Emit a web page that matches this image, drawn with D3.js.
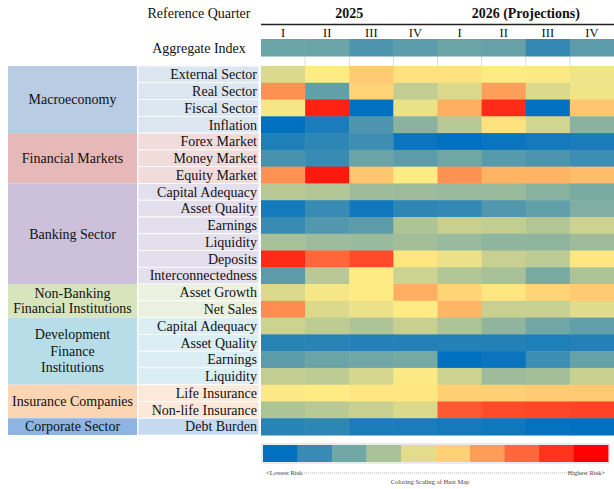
<!DOCTYPE html>
<html><head><meta charset="utf-8">
<script src="https://cdn.jsdelivr.net/npm/d3@7"></script>
<style>
html,body{margin:0;padding:0;background:#fff;}
text{font-family:"Liberation Serif","Times New Roman",serif;fill:#111;}
</style></head>
<body><svg id="chart" width="614" height="489"></svg>
<script>
// ---------------- DATA ----------------
const quarters = ["I","II","III","IV","I","II","III","IV"];
const yearLabels = ["2025","2026 (Projections)"];
const groupNames = [
  ["Macroeconomy"],
  ["Financial Markets"],
  ["Banking Sector"],
  ["Non-Banking","Financial Institutions"],
  ["Development","Finance","Institutions"],
  ["Insurance Companies"],
  ["Corporate Sector"]
];
const groupSizes = [4,3,6,2,4,2,1];
const groupColors = ["#b8cce4","#e6b8b7","#ccc0da","#d8e4bc","#b7dee8","#fcd5b4","#8db4e2"];
const subColors   = ["#dce6f1","#f2dcdb","#e4dfec","#ebf1de","#daeef3","#fde9d9","#c5d9f1"];
const indicators = [
  "External Sector","Real Sector","Fiscal Sector","Inflation",
  "Forex Market","Money Market","Equity Market",
  "Capital Adequacy","Asset Quality","Earnings","Liquidity","Deposits","Interconnectedness",
  "Asset Growth","Net Sales",
  "Capital Adequacy","Asset Quality","Earnings","Liquidity",
  "Life Insurance","Non-life Insurance",
  "Debt Burden"
];
// risk score 0 (lowest) .. 100 (highest), estimated from colours
const aggregateIndex = [21,21,15,18,21,20,10,18];
const riskScores = [
  [43,50,57,52,52,50,49,47],
  [69,19,55,38,43,66,43,47],
  [48,93,0,46,63,91,0,58],
  [0,5,15,27,36,52,41,27],
  [6,9,12,2,0,2,4,5],
  [14,11,21,18,22,17,15,12],
  [69,95,58,50,69,62,62,60],
  [36,35,31,31,30,30,27,24],
  [4,11,3,9,10,16,19,25],
  [11,16,18,34,39,38,35,40],
  [33,31,30,32,30,28,28,31],
  [91,78,84,51,46,39,37,51],
  [18,36,50,40,35,33,24,34],
  [43,48,50,63,55,51,55,57],
  [70,43,46,50,61,39,39,44],
  [40,37,34,39,34,28,22,19],
  [8,8,7,7,7,7,6,7],
  [18,21,22,23,0,2,12,20],
  [38,37,42,49,40,31,32,39],
  [49,50,51,51,56,56,57,57],
  [34,36,39,43,81,84,85,86],
  [8,9,5,5,4,3,1,0]
];
const legendSteps = [0,1,2,3,4,5,6,7,8,9];
const legendTexts = ["<Lowest Risk","Highest Risk>","Coloring Scaling of Heat Map"];

// ---------------- LAYOUT ----------------
const svg = d3.select("#chart");
const color = d3.scaleLinear().domain([0,50,100]).range(["#0070C0","#FFEB84","#FF0000"]).clamp(true);

const x = d3.scaleBand().domain(d3.range(quarters.length)).range([261,614]);
const y = d3.scaleBand().domain(d3.range(indicators.length)).range([66,435]);
const groupX = 8, groupW = 129, subX = 138, subW = 121;

// header
svg.append("text").attr("x",199).attr("y",18).attr("text-anchor","middle")
  .style("font-size","14px").text("Reference Quarter");
svg.append("text").attr("x",x(2)).attr("y",18).attr("text-anchor","middle")
  .style("font-size","14px").style("font-weight","bold").text(yearLabels[0]);
svg.append("text").attr("x",(x(4)+614)/2).attr("y",18).attr("text-anchor","middle")
  .style("font-size","14px").style("font-weight","bold").text(yearLabels[1]);
svg.append("line").attr("x1",261).attr("x2",614).attr("y1",24.5).attr("y2",24.5)
  .attr("stroke","#222").attr("stroke-width",1.3);
svg.selectAll("text.q").data(quarters).join("text").attr("class","q")
  .attr("x",(d,i)=>x(i)+x.bandwidth()/2).attr("y",37).attr("text-anchor","middle")
  .style("font-size","12.5px").text(d=>d);

// aggregate index row
svg.append("text").attr("x",199).attr("y",53).attr("text-anchor","middle")
  .style("font-size","14px").text("Aggregate Index");
svg.selectAll("rect.agg").data(aggregateIndex).join("rect").attr("class","agg")
  .attr("x",(d,i)=>x(i)).attr("y",39).attr("width",x.bandwidth()+0.5).attr("height",17.5)
  .attr("fill",d=>color(d));
// faint separators in blank strip
svg.selectAll("line.sep").data(d3.range(1,quarters.length)).join("line").attr("class","sep")
  .attr("x1",d=>x(d)).attr("x2",d=>x(d)).attr("y1",57).attr("y2",66)
  .attr("stroke","#d9d9d9").attr("stroke-width",1);

// group column
let start = 0;
const groupData = groupNames.map((g,i)=>{ const o={lines:g,start,size:groupSizes[i],i}; start+=groupSizes[i]; return o; });
svg.selectAll("rect.grp").data(groupData).join("rect").attr("class","grp")
  .attr("x",groupX).attr("y",d=>y(d.start)).attr("width",groupW)
  .attr("height",d=>y.bandwidth()*d.size).attr("fill",d=>groupColors[d.i]);
groupData.forEach(d=>{
  const cy = y(d.start)+y.bandwidth()*d.size/2;
  const lh = d.lines.length>2 ? 16.5 : 15;
  d.lines.forEach((ln,k)=>{
    svg.append("text").attr("x",groupX+groupW/2)
      .attr("y",cy+(k-(d.lines.length-1)/2)*lh+4.8)
      .attr("text-anchor","middle").style("font-size","14px").text(ln);
  });
});

// sub label column
const rowGroup = [];
groupSizes.forEach((s,i)=>{ for(let k=0;k<s;k++) rowGroup.push(i); });
svg.selectAll("rect.sub").data(indicators).join("rect").attr("class","sub")
  .attr("x",subX).attr("y",(d,i)=>y(i)).attr("width",subW).attr("height",y.bandwidth())
  .attr("fill",(d,i)=>subColors[rowGroup[i]]).attr("stroke","#ffffff").attr("stroke-width",0.8);
svg.selectAll("text.sub").data(indicators).join("text").attr("class","sub")
  .attr("x",subX+subW-2).attr("y",(d,i)=>y(i)+y.bandwidth()/2+4.8)
  .attr("text-anchor","end").style("font-size","14px").text(d=>d);

// heatmap cells
const cells = [];
riskScores.forEach((row,r)=>row.forEach((v,c)=>cells.push({r,c,v})));
svg.selectAll("rect.cell").data(cells).join("rect").attr("class","cell")
  .attr("x",d=>x(d.c)).attr("y",d=>y(d.r))
  .attr("width",x.bandwidth()+0.5).attr("height",y.bandwidth()+0.5)
  .attr("fill",d=>color(d.v));

// legend
const lx = d3.scaleBand().domain(legendSteps).range([263,608]);
const lg = svg.append("g");
lg.append("rect").attr("x",262).attr("y",444).attr("width",347).attr("height",19)
  .attr("fill","none").attr("stroke","#d8d8d8").attr("stroke-width",1);
lg.selectAll("rect.leg").data(legendSteps).join("rect").attr("class","leg")
  .attr("x",d=>lx(d)).attr("y",445).attr("width",lx.bandwidth()+0.4).attr("height",17)
  .attr("fill",d=>color(d/9*100));
lg.append("text").attr("x",266).attr("y",475).style("font-size","6.5px").style("fill","#444").text(legendTexts[0]);
lg.append("text").attr("x",605).attr("y",475).attr("text-anchor","end").style("font-size","6.5px").style("fill","#444").text(legendTexts[1]);
lg.append("line").attr("x1",300).attr("x2",570).attr("y1",473).attr("y2",473)
  .attr("stroke","#aaa").attr("stroke-width",0.8).attr("stroke-dasharray","1,1");
lg.append("text").attr("x",430).attr("y",484).attr("text-anchor","middle").style("font-size","6.5px").style("fill","#444").text(legendTexts[2]);
</script></body></html>
